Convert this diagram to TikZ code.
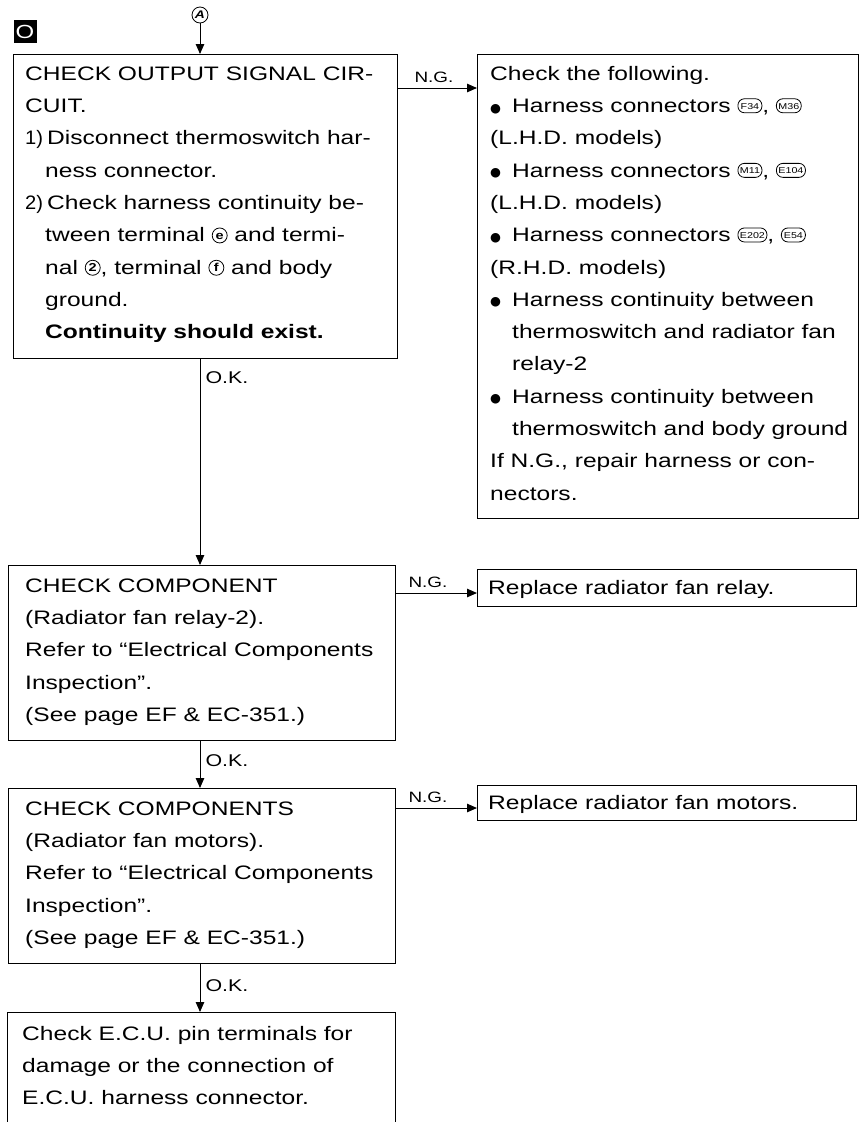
\documentclass[tikz,border=0pt]{standalone}
\usepackage{fontspec}
\usepackage{graphicx}
\setmainfont{Liberation Sans}[FakeStretch=1.26]
\newfontfamily\dvfont{DejaVu Sans}
\usetikzlibrary{arrows.meta}

% circled terminal number / letter
\newcommand\circlab[1]{\tikz[baseline=0pt]\node[anchor=base,circle,draw,line width=0.8pt,inner sep=0pt,minimum size=15pt,text height=7.5pt,text depth=0pt,yshift=2.5pt,font=\fontsize{11.5}{11.5}\selectfont\bfseries]{#1};}
% rounded connector tag
\newcommand\connlab[1]{\tikz[baseline=0pt]\node[anchor=base,draw,line width=0.8pt,rounded corners=6.5pt,inner xsep=2pt,inner ysep=0pt,text height=6.5pt,text depth=0pt,minimum height=14pt,minimum width=24pt,yshift=3.5pt,font=\fontsize{8.5}{8.5}\selectfont]{#1};}
% list bullet
\newcommand\bul{\makebox[22pt][l]{\raisebox{0.5pt}{\dvfont\fontsize{12.5}{12.5}\selectfont ●}}}
% step number with hanging text
\newcommand\stepno[1]{\makebox[22pt][l]{\scalebox{0.82}[1]{#1}}}

\begin{document}
\begin{tikzpicture}[x=1pt,y=-1pt,
  box/.style={draw, line width=1pt, anchor=north west, inner sep=0pt},
  txt/.style={anchor=north west, inner sep=0pt, align=left, font=\fontsize{19.5}{32.3}\selectfont},
  nglab/.style={anchor=base west, inner sep=0pt, font=\fontsize{15}{15}\selectfont},
  oklab/.style={anchor=west, inner sep=0pt, font=\fontsize{17}{17}\selectfont},
  arr/.style={line width=1pt, -{Triangle[length=10pt,width=8.5pt]}}]

\useasboundingbox (0,0) rectangle (867,1122);
\fill[white] (0,0) rectangle (867,1122);
\clip (0,0) rectangle (867,1122);

\coordinate (spine) at (200,0);
\coordinate (y1) at (0,88);
\coordinate (y2) at (0,593);
\coordinate (y3) at (0,808);

% section mark and entry point
\node[fill=black, text=white, minimum size=23pt, inner sep=0pt, font=\fontsize{19}{19}\selectfont] (sec) at (25,31.5) {O};
\node[circle, draw, line width=0.8pt, minimum size=16pt, inner sep=0pt, font=\fontsize{11}{11}\selectfont\bfseries\itshape] (a) at (200,15) {A};

% step boxes
\node[box, minimum width=384pt, minimum height=304pt] (b1) at (13,54) {};
\node[box, minimum width=387pt, minimum height=175pt] (b2) at (8,565) {};
\node[box, minimum width=387pt, minimum height=175pt] (b3) at (8,788) {};
\node[box, minimum width=388pt, minimum height=140pt] (b4) at (7,1012) {};

% result boxes
\node[box, minimum width=381pt, minimum height=464pt] (r1) at (477,54) {};
\node[box, minimum width=379pt, minimum height=37pt] (r2) at (477,569) {};
\node[box, minimum width=379pt, minimum height=35pt] (r3) at (477,785) {};

% texts
\node[txt] (t1) at (25,57.4) {\strut CHECK OUTPUT SIGNAL CIR-\\
CUIT.\\
\stepno{1)}Disconnect thermoswitch har-\\
\hspace*{20pt}ness connector.\\
\stepno{2)}Check harness continuity be-\\
\hspace*{20pt}tween terminal \circlab{e} and termi-\\
\hspace*{20pt}nal \circlab{2}, terminal \circlab{f} and body\\
\hspace*{20pt}ground.\\
\hspace*{20pt}\textbf{Continuity should exist.}};

\node[txt] (tr1) at (490,57.4) {\strut Check the following.\\
\bul Harness connectors \connlab{F34}, \connlab{M36}\\
(L.H.D. models)\\
\bul Harness connectors \connlab{M11}, \connlab{E104}\\
(L.H.D. models)\\
\bul Harness connectors \connlab{E202}, \connlab{E54}\\
(R.H.D. models)\\
\bul Harness continuity between\\
\hspace*{22pt}thermoswitch and radiator fan\\
\hspace*{22pt}relay-2\\
\bul Harness continuity between\\
\hspace*{22pt}thermoswitch and body ground\\
If N.G., repair harness or con-\\
nectors.};

\node[txt] (t2) at (25,569.4) {\strut CHECK COMPONENT\\
(Radiator fan relay-2).\\
Refer to “Electrical Components\\
Inspection”.\\
(See page EF \& EC-351.)};

\node[txt] (tr2) at (488,571.4) {\strut Replace radiator fan relay.};

\node[txt] (t3) at (25,792.4) {\strut CHECK COMPONENTS\\
(Radiator fan motors).\\
Refer to “Electrical Components\\
Inspection”.\\
(See page EF \& EC-351.)};

\node[txt] (tr3) at (488,786.4) {\strut Replace radiator fan motors.};

\node[txt] (t4) at (22,1017.4) {\strut Check E.C.U. pin terminals for\\
damage or the connection of\\
E.C.U. harness connector.};

% flow
\draw[arr] (a.south) -- (a.south |- b1.north);
\draw[arr] (b1.south -| spine) -- node[oklab, pos=0, xshift=5pt, yshift=-19pt] {O.K.} (b2.north -| spine);
\draw[arr] (b2.south -| spine) -- node[oklab, pos=0, xshift=5pt, yshift=-20pt] {O.K.} (b3.north -| spine);
\draw[arr] (b3.south -| spine) -- node[oklab, pos=0, xshift=5pt, yshift=-22pt] {O.K.} (b4.north -| spine);

\draw[arr] (b1.east |- y1) -- node[nglab, pos=0, xshift=16pt, yshift=6pt] {N.G.} (r1.west |- y1);
\draw[arr] (b2.east |- y2) -- node[nglab, pos=0, xshift=12pt, yshift=6pt] {N.G.} (r2.west |- y2);
\draw[arr] (b3.east |- y3) -- node[nglab, pos=0, xshift=12pt, yshift=6pt] {N.G.} (r3.west |- y3);
\end{tikzpicture}
\end{document}
